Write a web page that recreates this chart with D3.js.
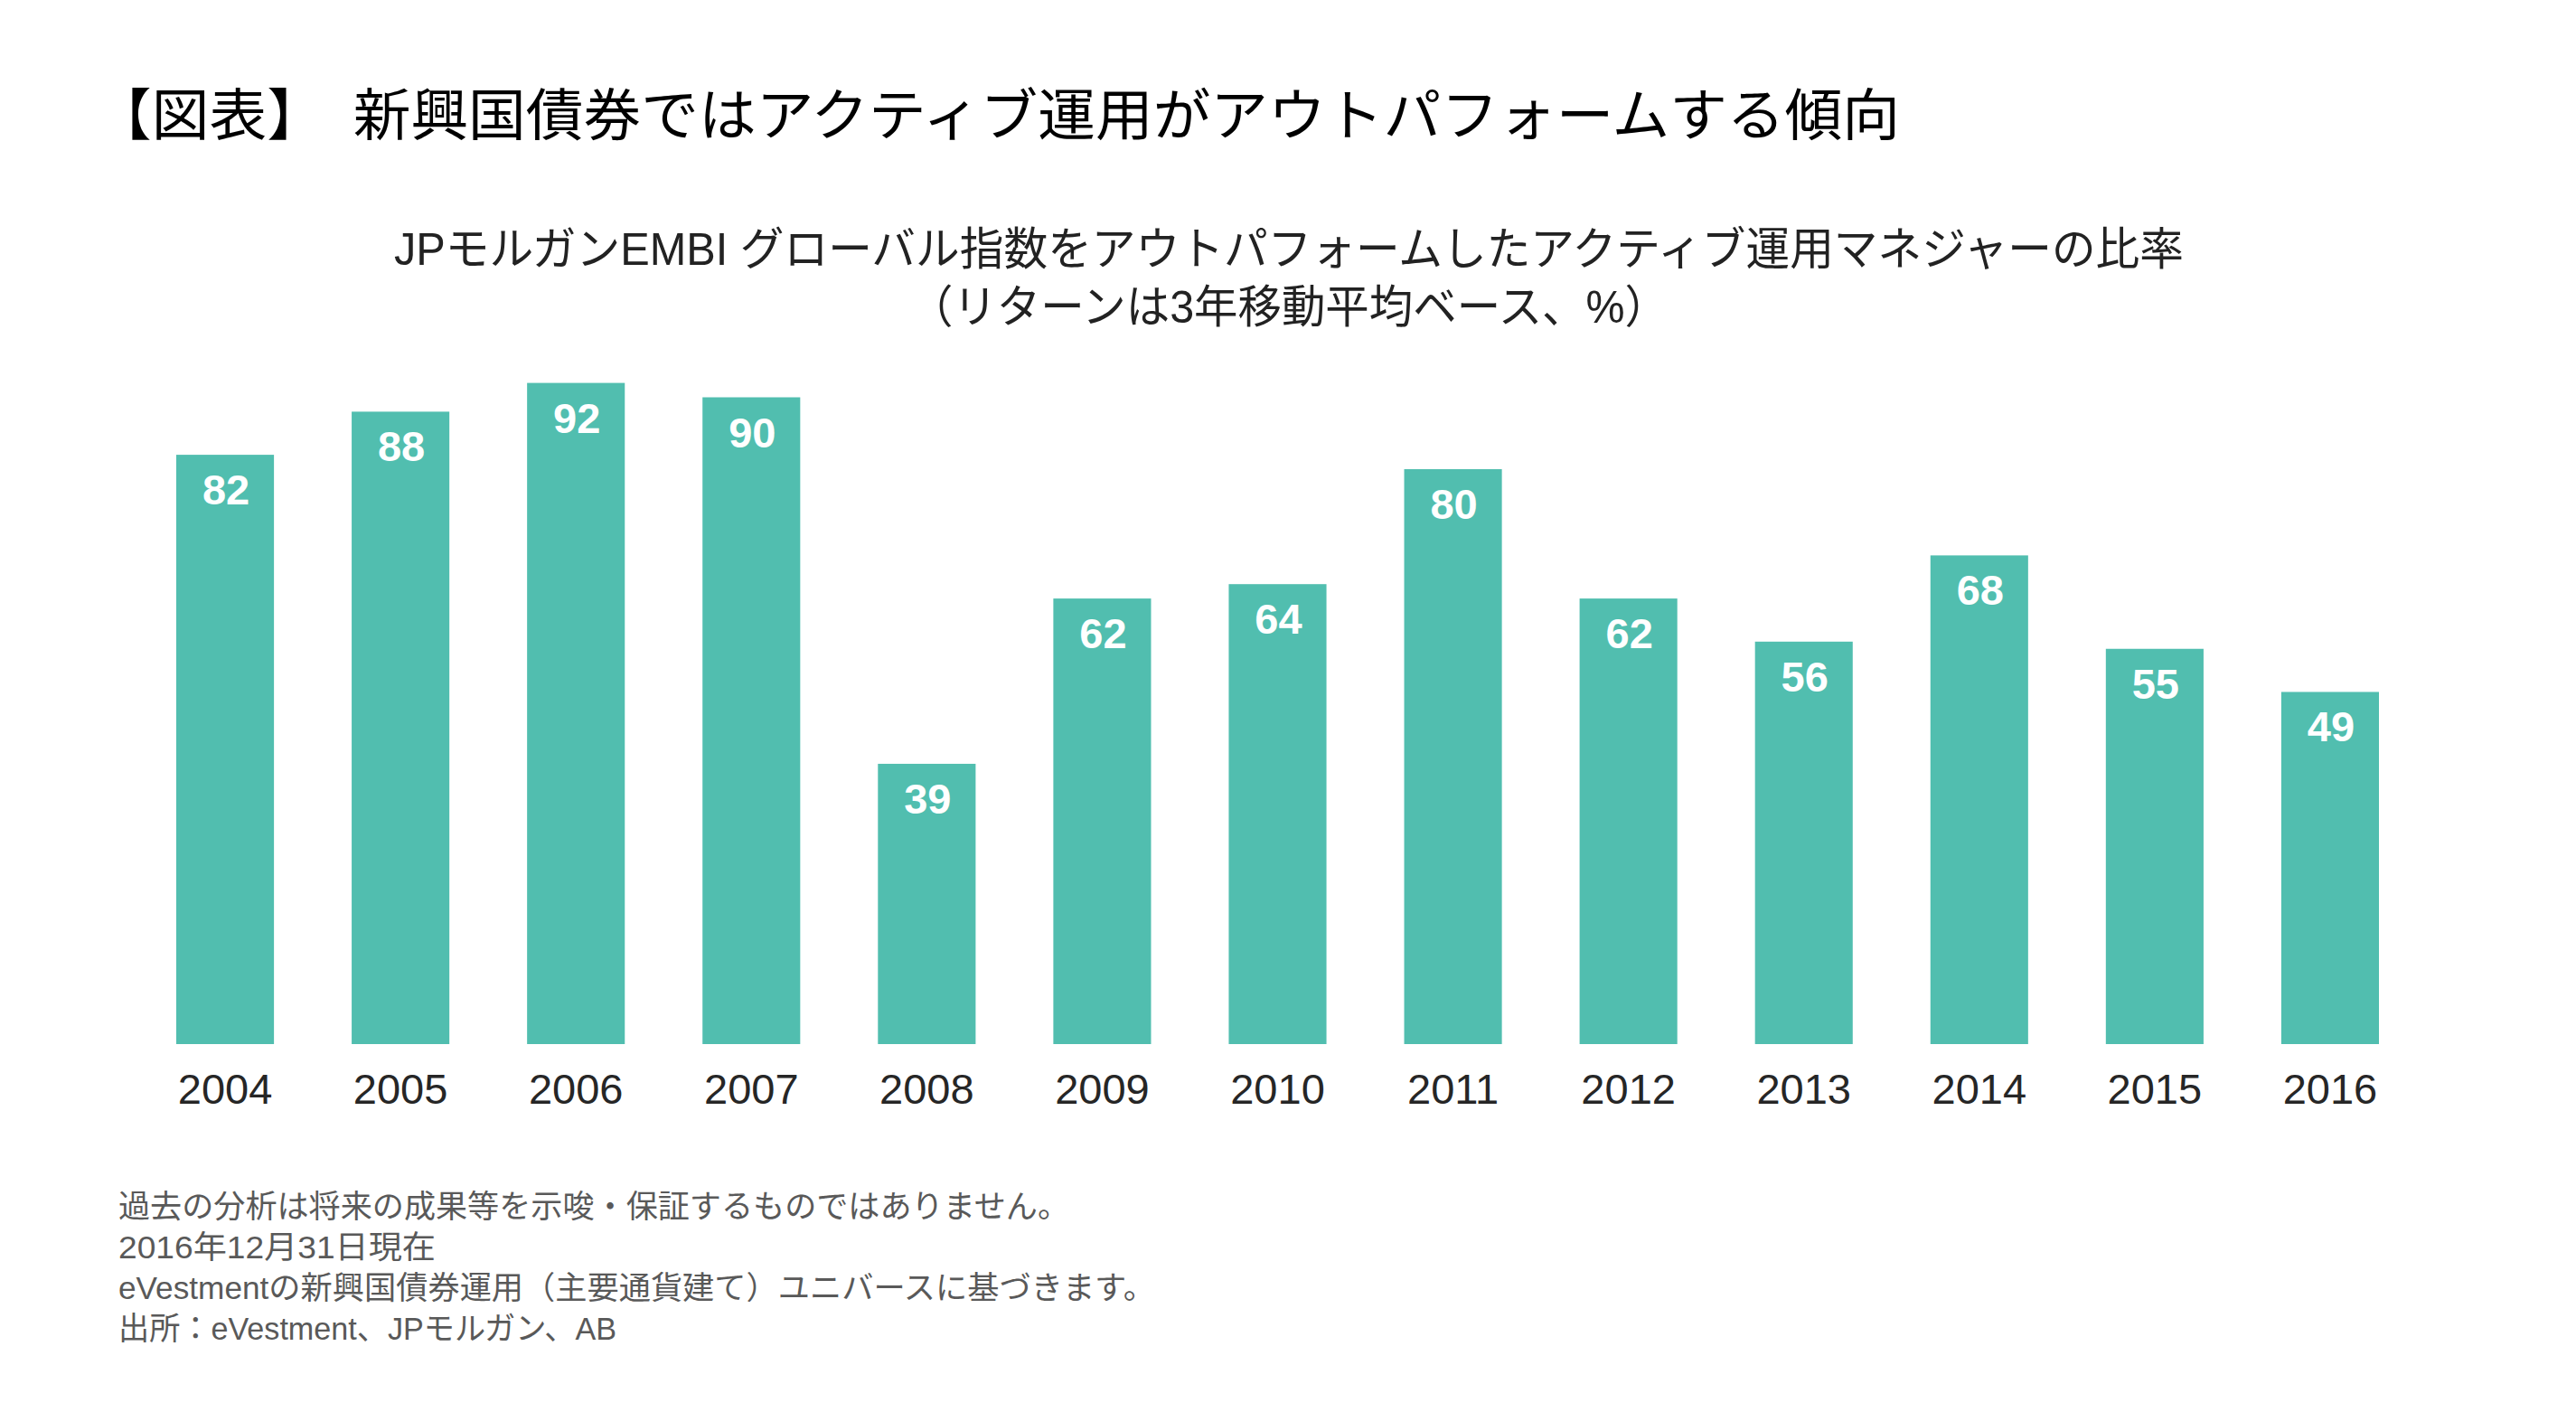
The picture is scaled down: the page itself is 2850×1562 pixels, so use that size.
<!DOCTYPE html>
<html>
<head>
<meta charset="utf-8">
<script src="https://cdn.jsdelivr.net/npm/d3@7"></script>
<style>
  html, body { margin: 0; padding: 0; background: #ffffff; }
  svg { display: block; }
  text { font-family: "Liberation Sans", Arial, "Noto Sans CJK JP", sans-serif; }
</style>
</head>
<body>
<script>
const years = ["2004","2005","2006","2007","2008","2009","2010","2011","2012","2013","2014","2015","2016"];
const values = [82, 88, 92, 90, 39, 62, 64, 80, 62, 56, 68, 55, 49];
const titleText = "【図表】　新興国債券ではアクティブ運用がアウトパフォームする傾向";
const subtitleLines = [
  "JPモルガンEMBI グローバル指数をアウトパフォームしたアクティブ運用マネジャーの比率",
  "（リターンは3年移動平均ベース、%）"
];
const footnotes = [
  "過去の分析は将来の成果等を示唆・保証するものではありません。",
  "2016年12月31日現在",
  "eVestmentの新興国債券運用（主要通貨建て）ユニバースに基づきます。",
  "出所：eVestment、JPモルガン、AB"
];

const W = 2850, H = 1562;
const svg = d3.select("body").append("svg").attr("width", W).attr("height", H);

// Title
svg.append("text")
  .attr("x", 104).attr("y", 150)
  .attr("font-size", 62)
  .attr("fill", "#000000")
  .attr("textLength", 1998)
  .attr("lengthAdjust", "spacingAndGlyphs")
  .text(titleText);

// Subtitle
const subY = [293, 357];
const subLen = [1980, 840];
svg.selectAll("text.sub").data(subtitleLines).join("text")
  .attr("class", "sub")
  .attr("x", 1426)
  .attr("y", (d, i) => subY[i])
  .attr("text-anchor", "middle")
  .attr("font-size", 50)
  .attr("fill", "#222222")
  .attr("textLength", (d, i) => subLen[i])
  .attr("lengthAdjust", "spacingAndGlyphs")
  .text(d => d);

// Scales
const x = d3.scaleBand().domain(years).range([195, 2632]).paddingInner(0.443).paddingOuter(0);
const y = d3.scaleLinear().domain([0, 100]).range([1155, 360]);

const data = years.map((yr, i) => ({ year: yr, value: values[i] }));

// Bars
svg.append("g").selectAll("rect").data(data).join("rect")
  .attr("x", d => x(d.year))
  .attr("y", d => y(d.value))
  .attr("width", x.bandwidth())
  .attr("height", d => y(0) - y(d.value))
  .attr("fill", "#51BEAF");

// Value labels
svg.append("g").selectAll("text").data(data).join("text")
  .attr("x", d => x(d.year) + x.bandwidth() / 2 + 1)
  .attr("y", d => y(d.value) + 55)
  .attr("text-anchor", "middle")
  .attr("font-size", 47)
  .attr("font-weight", "bold")
  .attr("fill", "#ffffff")
  .text(d => d.value);

// X axis
const xAxis = d3.axisBottom(x).tickSize(0).tickPadding(33);
const gx = svg.append("g").attr("transform", `translate(0,${y(0)})`).call(xAxis);
gx.select(".domain").remove();
gx.selectAll("text")
  .attr("font-size", 47)
  .attr("fill", "#262626")
  .style("font-family", '"Liberation Sans", Arial, sans-serif');

// Footnotes
const footLen = [1052, 351, 1147, 551];
svg.selectAll("text.foot").data(footnotes).join("text")
  .attr("class", "foot")
  .attr("x", 131)
  .attr("y", (d, i) => 1347 + i * 45)
  .attr("font-size", 35)
  .attr("fill", "#595959")
  .attr("textLength", (d, i) => footLen[i])
  .attr("lengthAdjust", "spacingAndGlyphs")
  .text(d => d);
</script>
</body>
</html>
